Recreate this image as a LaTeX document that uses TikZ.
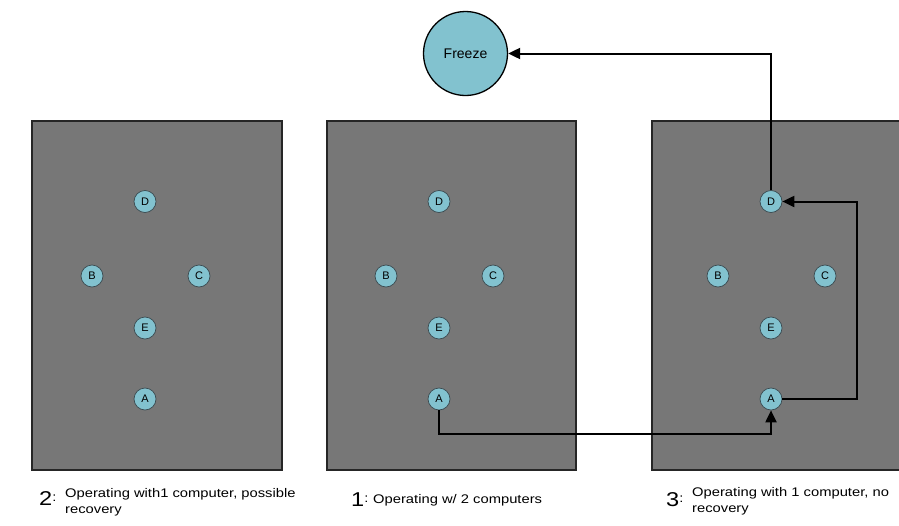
\documentclass[tikz,border=0pt]{standalone}
\usepackage{fontspec}
\setmainfont{Liberation Sans}
\newfontfamily\capfont[FakeStretch=1.18]{Liberation Sans}
\usetikzlibrary{arrows.meta}
\definecolor{panelgray}{HTML}{777777}
\definecolor{nodeblue}{HTML}{82C2CF}
\definecolor{nodeedge}{HTML}{3A4A50}
\newcommand{\smallcolon}{\raisebox{3.5pt}{\fontsize{12.5}{12.5}\selectfont:}}
\tikzset{
  panel/.style={draw=black!85, line width=1.2pt, fill=panelgray},
  cnode/.style={circle, draw=nodeedge, line width=0.7pt, fill=nodeblue, minimum size=22pt, inner sep=0pt, font=\fontsize{11}{11}\selectfont},
  bignode/.style={circle, draw=black, line width=1.3pt, fill=nodeblue, minimum size=84pt, inner sep=0pt, font=\fontsize{14}{14}\selectfont},
  link/.style={draw=black, line width=2pt, -{Triangle[length=12pt,width=11pt]}},
  caption/.style={align=left, font=\capfont\fontsize{12.5}{16.5}\selectfont, inner sep=0pt},
  capnum/.style={anchor=base west, font=\capfont\fontsize{20}{20}\selectfont, inner sep=0pt}
}
\begin{document}
\begin{tikzpicture}[x=1pt, y=-1pt]
\useasboundingbox (0,0) rectangle (899,525);
% three panels
\path[panel] (32,121) rectangle (282,470);
\path[panel] (327,121) rectangle (576,470);
\clip (0,0) rectangle (899,525);
\path[panel] (652,121) rectangle (910,470);

% node clusters
\foreach \p/\cx in {1/145, 2/439, 3/771} {
  \node[cnode] (D\p) at (\cx,201.5) {D};
  \node[cnode] (B\p) at (\cx-53,276) {B};
  \node[cnode] (C\p) at (\cx+54,276) {C};
  \node[cnode] (E\p) at (\cx,328) {E};
  \node[cnode] (A\p) at (\cx,399) {A};
}

\node[bignode] (freeze) at (465.5,53.5) {Freeze};

% connectors
\draw[link] (A2.south) |- (622,434) -| (A3.south);
\draw[link] (A3.east) -| (857,300) |- (D3.east);
\draw[link] (D3.north) |- (freeze.east);

% captions
\node[capnum] (n2) at (39,505) {2\smallcolon};
\node[caption, anchor=north west] (t2) at (65,488) {Operating with1 computer, possible\\recovery};
\node[capnum] (n1) at (351,506) {1\smallcolon};
\node[caption, anchor=base west] (t1) at (373,503) {Operating w/ 2 computers};
\node[capnum] (n3) at (666,506) {3\smallcolon};
\node[caption, anchor=north west] (t3) at (692,487) {Operating with 1 computer, no\\recovery};
\end{tikzpicture}
\end{document}
